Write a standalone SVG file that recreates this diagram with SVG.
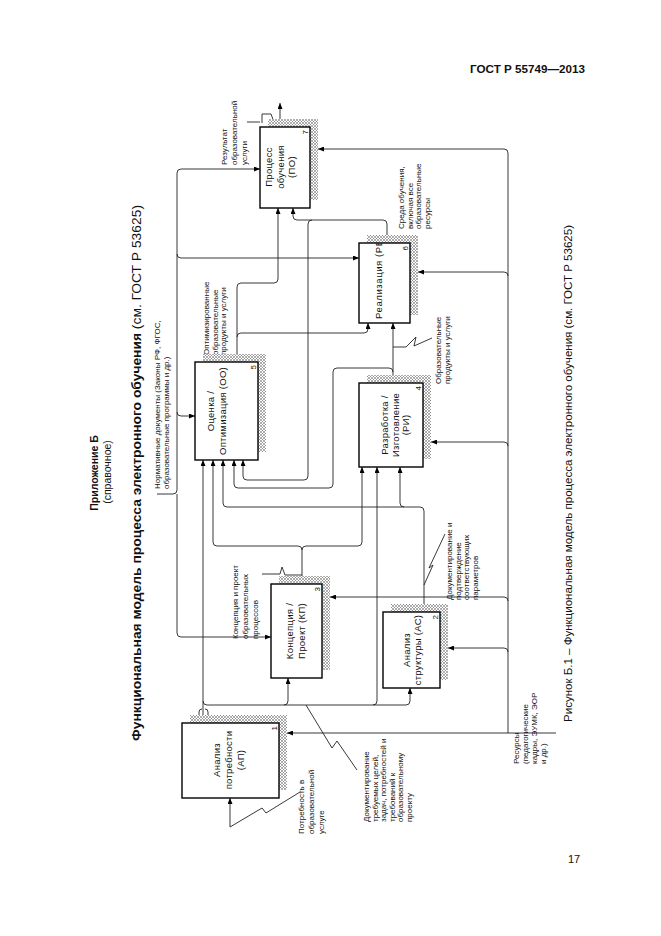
<svg xmlns="http://www.w3.org/2000/svg" width="661" height="936" viewBox="0 0 661 936">
<style>
.box{fill:#fff;stroke:#000;stroke-width:1.4}
.sh{fill:url(#hatch);stroke:none}
.ln{fill:none;stroke:#222;stroke-width:0.9}
.ar{marker-end:url(#ah)}
text{font-family:"Liberation Sans",Arial,sans-serif;fill:#111}
.lb{font-size:8px}
.bt{font-size:9.5px;text-anchor:middle;letter-spacing:0.3px}
.num{font-size:8px;text-anchor:end}
</style>
<defs>
<pattern id="hatch" width="3" height="3" patternUnits="userSpaceOnUse">
<rect width="3" height="3" fill="#fff"/>
<path d="M0,3 L3,0 M0,0 L3,3" stroke="#777" stroke-width="0.6"/>
</pattern>
<marker id="ah" markerWidth="6" markerHeight="5" refX="6" refY="2.5" orient="auto" markerUnits="userSpaceOnUse">
<path d="M0,0 L6,2.5 L0,5 z" fill="#000"/>
</marker>
<clipPath id="clipRE"><rect x="359" y="243" width="51" height="80"/></clipPath>
</defs>

<text x="470" y="73" font-size="11.5" font-weight="bold" textLength="115" lengthAdjust="spacingAndGlyphs">ГОСТ Р 55749—2013</text>
<text transform="translate(98,473) rotate(-90)" font-size="10.5" font-weight="bold" text-anchor="middle">Приложение Б</text>
<text transform="translate(111,472) rotate(-90)" font-size="10.5" text-anchor="middle">(справочное)</text>
<text transform="translate(141,741) rotate(-90)" font-size="13.5" textLength="536" lengthAdjust="spacingAndGlyphs"><tspan font-weight="bold">Функциональная модель процесса электронного обучения </tspan><tspan>(см. ГОСТ Р 53625)</tspan></text>
<text transform="translate(572,722) rotate(-90)" font-size="11" textLength="497" lengthAdjust="spacingAndGlyphs">Рисунок Б.1 – Функциональная модель процесса электронного обучения (см. ГОСТ Р 53625)</text>
<text x="568" y="863" font-size="11">17</text>

<g id="connectors">
<path class="ln ar" d="M157,494 H173 Q177,494 177,490 V173 Q177,169 181,169 H260"/>
<path class="ln ar" d="M177,254 Q177,258 181,258 H359"/>
<path class="ln ar" d="M177,412 Q177,416 181,416 H195"/>
<path class="ln ar" d="M177,494 V633 Q177,637 181,637 H271"/>

<path class="ln ar" d="M556,733 H287"/>
<path class="ln ar" d="M508,733 V153 Q508,149 504,149 H318"/>
<path class="ln ar" d="M508,276 Q508,272 504,272 H418"/>
<path class="ln ar" d="M508,446 Q508,442 504,442 H431"/>
<path class="ln ar" d="M508,601 Q508,597 504,597 H330"/>
<path class="ln ar" d="M508,652 Q508,648 504,648 H448"/>

<path class="ln ar" d="M280,127 V103"/>
<path class="ln" d="M262,123 V114 H271 L274,122 M247,122 H260"/>

<path class="ln ar" d="M387,243 V224 Q387,220 383,220 H297 Q293,220 293,216 V208"/>
<path class="ln ar" d="M312,220 Q308,220 308,224 V476 Q308,480 304,480 H247 Q243,480 243,476 V460"/>

<path class="ln ar" d="M237,362 V287 Q237,283 241,283 H274 Q278,283 278,279 V208"/>
<path class="ln ar" d="M237,337 Q237,333 241,333 H364 Q368,333 368,329 V323"/>

<path class="ln ar" d="M393,383 V323"/>
<path class="ln ar" d="M393,372 Q393,368 389,368 H337 Q333,368 333,372 V484 Q333,488 329,488 H238 Q234,488 234,484 V460"/>
<path class="ln" d="M393,347 H406 L416,337 L414,346 L432,338"/>

<path class="ln ar" d="M302,584 V550 Q302,546 298,546 H217 Q213,546 213,542 V460"/>
<path class="ln ar" d="M302,550 Q302,546 306,546 H358 Q362,546 362,542 V467"/>
<path class="ln" d="M302,575 H285 L282,567 L280,574 H262"/>

<path class="ln ar" d="M424,612 V511 Q424,507 420,507 H404 Q400,507 400,503 V467"/>
<path class="ln ar" d="M404,507 H227 Q223,507 223,503 V460"/>
<path class="ln" d="M424,585 L433,565 L429,568 L445,534"/>

<path class="ln ar" d="M203,723 V460"/>
<path class="ln ar" d="M203,701 Q203,705 207,705 H284 Q288,705 288,701 V678"/>
<path class="ln ar" d="M284,705 H373 Q377,705 377,701 V467"/>
<path class="ln ar" d="M373,705 H406 Q410,705 410,701 V688"/>
<path class="ln" d="M199,723 V712 Q199,709 202,709 M208,723 V712 Q208,709 205,709"/>
<path class="ln" d="M306,705 L332,748 L337,741 L357,770"/>

<path class="ln ar" d="M230,827 V798"/>
<path class="ln" d="M230,827 L262,808 L266,813 L300,792"/>
</g>

<g id="labels" class="lb">
<text transform="translate(227,165) rotate(-90)"><tspan x="0">Результат</tspan><tspan x="0" dy="10">образовательной</tspan><tspan x="0" dy="10">услуги</tspan></text>
<text transform="translate(404,229) rotate(-90)"><tspan x="0">Среда обучения,</tspan><tspan x="0" dy="8.5">включая все</tspan><tspan x="0" dy="8.5">образовательные</tspan><tspan x="0" dy="8.5">ресурсы</tspan></text>
<text transform="translate(160,489) rotate(-90)"><tspan x="0">Нормативные документы (Законы РФ, ФГОС,</tspan><tspan x="0" dy="8.5">образовательные программы и др.)</tspan></text>
<text transform="translate(209,355) rotate(-90)"><tspan x="0">Оптимизированные</tspan><tspan x="0" dy="8.5">образовательные</tspan><tspan x="0" dy="8.5">продукты и услуги</tspan></text>
<text transform="translate(441,384) rotate(-90)"><tspan x="0">Образовательные</tspan><tspan x="0" dy="9">продукты и услуги</tspan></text>
<text transform="translate(238,639) rotate(-90)"><tspan x="0">Концепция и проект</tspan><tspan x="0" dy="10">образовательных</tspan><tspan x="0" dy="10">процессов</tspan></text>
<text transform="translate(452,600) rotate(-90)"><tspan x="0">Документирование и</tspan><tspan x="0" dy="8.5">подтверждение</tspan><tspan x="0" dy="8.5">соответствующих</tspan><tspan x="0" dy="8.5">параметров</tspan></text>
<text transform="translate(369,822) rotate(-90)"><tspan x="0">Документирование</tspan><tspan x="0" dy="8.5">требуемых целей,</tspan><tspan x="0" dy="8.5">задач, потребностей и</tspan><tspan x="0" dy="8.5">требований к</tspan><tspan x="0" dy="8.5">образовательному</tspan><tspan x="0" dy="8.5">проекту</tspan></text>
<text transform="translate(304,834) rotate(-90)"><tspan x="0">Потребность в</tspan><tspan x="0" dy="10">образовательной</tspan><tspan x="0" dy="10">услуге</tspan></text>
<text transform="translate(519,764) rotate(-90)"><tspan x="0">Ресурсы</tspan><tspan x="0" dy="9">(педагогические</tspan><tspan x="0" dy="9">кадры, ЭУМК, ЭОР</tspan><tspan x="0" dy="9">и др.)</tspan></text>
</g>

<g id="node-AP">
<rect class="sh" x="190" y="715" width="97" height="75"/>
<rect class="box" x="182" y="723" width="97" height="75"/>
<text class="bt" transform="translate(220,760) rotate(-90)"><tspan x="0">Анализ</tspan><tspan x="0" dy="12">потребности</tspan><tspan x="0" dy="12">(АП)</tspan></text>
<text class="num" transform="translate(277,726) rotate(-90)">1</text>
</g>
<g id="node-AS">
<rect class="sh" x="391" y="604" width="57" height="76"/>
<rect class="box" x="383" y="612" width="57" height="76"/>
<text class="bt" transform="translate(410,650) rotate(-90)"><tspan x="0">Анализ</tspan><tspan x="0" dy="11">структуры (АС)</tspan></text>
<text class="num" transform="translate(438,615) rotate(-90)">2</text>
</g>
<g id="node-KP">
<rect class="sh" x="279" y="576" width="51" height="94"/>
<rect class="box" x="271" y="584" width="51" height="94"/>
<text class="bt" transform="translate(293,631) rotate(-90)"><tspan x="0">Концепция /</tspan><tspan x="0" dy="12">Проект (КП)</tspan></text>
<text class="num" transform="translate(320,587) rotate(-90)">3</text>
</g>
<g id="node-RI">
<rect class="sh" x="367" y="375" width="64" height="84"/>
<rect class="box" x="359" y="383" width="64" height="84"/>
<text class="bt" transform="translate(388,425) rotate(-90)"><tspan x="0">Разработка /</tspan><tspan x="0" dy="10.5">Изготовление</tspan><tspan x="0" dy="10.5">(РИ)</tspan></text>
<text class="num" transform="translate(421,386) rotate(-90)">4</text>
</g>
<g id="node-OO">
<rect class="sh" x="203" y="354" width="63" height="98"/>
<rect class="box" x="195" y="362" width="63" height="98"/>
<text class="bt" transform="translate(214,411) rotate(-90)"><tspan x="0">Оценка /</tspan><tspan x="0" dy="12">Оптимизация (ОО)</tspan></text>
<text class="num" transform="translate(256,365) rotate(-90)">5</text>
</g>
<g id="node-RE">
<rect class="sh" x="367" y="235" width="51" height="80"/>
<rect class="box" x="359" y="243" width="51" height="80"/>
<g clip-path="url(#clipRE)"><text transform="translate(382,319) rotate(-90)" font-size="9.5" letter-spacing="0.6">Реализация (РЕ)</text></g>
<text class="num" transform="translate(408,246) rotate(-90)">6</text>
</g>
<g id="node-PO">
<rect class="sh" x="268" y="119" width="50" height="81"/>
<rect class="box" x="260" y="127" width="50" height="81"/>
<text class="bt" transform="translate(272,167) rotate(-90)"><tspan x="0">Процесс</tspan><tspan x="0" dy="11.5">обучения</tspan><tspan x="0" dy="11.5">(ПО)</tspan></text>
<text class="num" transform="translate(308,130) rotate(-90)">7</text>
</g>
</svg>
